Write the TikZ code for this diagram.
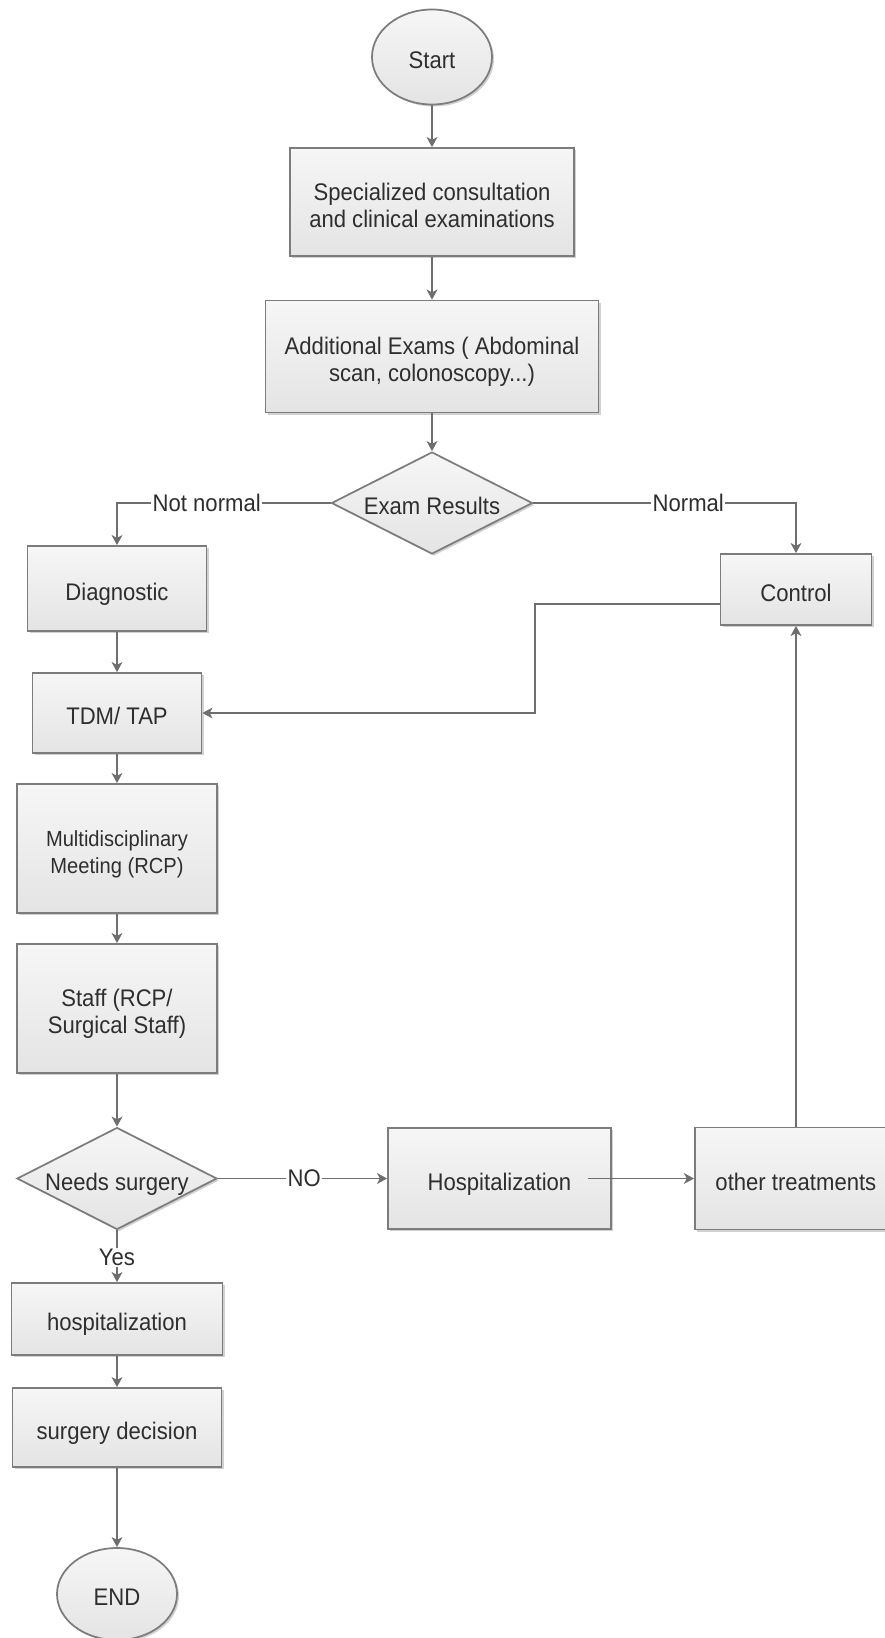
\documentclass[tikz,border=0pt]{standalone}
\usepackage{fontspec}
\setmainfont{Liberation Sans}[FakeStretch=0.92]
\usetikzlibrary{shapes.geometric,arrows.meta,shadows,calc}

\newdimen\pxu \pxu=0.75pt
\definecolor{linegray}{HTML}{6E6E6E}
\definecolor{edgegray}{HTML}{7C7C7C}
\definecolor{inkgray}{HTML}{2E2E2E}
\definecolor{filltop}{HTML}{F6F6F6}
\definecolor{fillbot}{HTML}{E4E4E4}

% centred block of lines, set a little below the middle of its shape
\newcommand{\celltext}[1]{\raisebox{-4.8pt}[\height][\depth]{\begin{tabular}{@{}c@{}}#1\end{tabular}}}

\begin{document}
\begin{tikzpicture}[x=0.75pt,y=-0.75pt,
  every node/.style={text=inkgray, font=\fontsize{18}{20.25}\selectfont},
  shape base/.style={draw=edgegray, line width=1.3pt, fill=fillbot,
    path picture={\shade[top color=filltop, bottom color=fillbot]
      (path picture bounding box.south west) rectangle (path picture bounding box.north east);},
    drop shadow={shadow xshift=1.5pt, shadow yshift=-1.5pt, opacity=0.18, fill=black},
    inner sep=0pt},
  procbox/.style={shape base, rectangle},
  terminal/.style={shape base, ellipse},
  decision/.style={shape base, diamond, aspect=2},
  size/.style 2 args={minimum width=#1\pxu, minimum height=#2\pxu},
  flow/.style={draw=linegray, line width=1.3pt, -{Stealth[length=7.5pt,width=8pt,inset=2pt]}},
  edgelabel/.style={fill=white, inner sep=1pt},
]
% canvas
\fill[white] (0,0) rectangle (885,1638);
\clip (0,0) rectangle (885,1638);

% main column
\node[terminal, size={120}{95}] (start) at (432,57) {\celltext{Start}};
\node[procbox, size={284}{108}] (consult) at (432,202) {\celltext{Specialized consultation\\and clinical examinations}};
\node[procbox, size={333}{112}] (addexam) at (432,356.5) {\celltext{Additional Exams ( Abdominal\\scan, colonoscopy...)}};
\node[decision, size={201}{102}] (exam) at (432,503) {\celltext{Exam Results}};

% left column
\node[procbox, size={179}{85}] (diag) at (117,588.5) {\celltext{Diagnostic}};
\node[procbox, size={169}{80}] (tdm) at (117,713) {\celltext{TDM/ TAP}};
\node[procbox, size={200}{129}, font=\fontsize{16.4}{20.3}\selectfont] (multi) at (117,848.5) {\celltext{Multidisciplinary\\Meeting (RCP)}};
\node[procbox, size={200}{129}] (staff) at (117,1008.5) {\celltext{Staff (RCP/\\Surgical Staff)}};
\node[decision, size={200}{102}] (needs) at (117,1178.5) {\celltext{Needs surgery}};
\node[procbox, size={211}{72}] (hospit) at (117,1319) {\celltext{hospitalization}};
\node[procbox, size={209}{79}] (surgdec) at (117,1427.5) {\celltext{surgery decision}};
\node[terminal, size={120}{92}] (finish) at (117,1594) {\celltext{END}};

% right side
\node[procbox, size={151}{71}] (control) at (796,589.5) {\celltext{Control}};
\node[procbox, size={223}{101}] (hosp) at (499.5,1178.5) {\celltext{Hospitalization}};
\node[procbox, size={216}{102}, anchor=west] (other) at (694,1178.5) {\hspace*{-14\pxu}\celltext{other treatments}};
\coordinate (jog) at (535,660);

% connectors
\draw[flow] (start) -- (consult);
\draw[flow] (consult) -- (addexam);
\draw[flow] (addexam) -- (exam);
\draw[flow] (exam.west) -| node[edgelabel, pos=0.29] {Not normal} (diag.north);
\draw[flow] (exam.east) -| node[edgelabel, pos=0.295] {Normal} (control.north);
\draw[flow] (diag) -- (tdm);
\draw[flow] ($(control.west)+(0,14.5)$) -| (jog) |- (tdm.east);
\draw[flow] (tdm) -- (multi);
\draw[flow] (multi) -- (staff);
\draw[flow] (staff) -- (needs);
\draw[flow] (needs.east) -- node[edgelabel, pos=0.51] {NO} (hosp.west);
\draw[flow] ($(hosp.east)+(-24,0)$) -- (other.west);
\draw[flow] (other.north -| control.south) -- (control.south);
\draw[flow] (needs.south) -- node[edgelabel, pos=0.52] {Yes} (hospit.north);
\draw[flow] (hospit) -- (surgdec);
\draw[flow] (surgdec) -- (finish);
\end{tikzpicture}
\end{document}
